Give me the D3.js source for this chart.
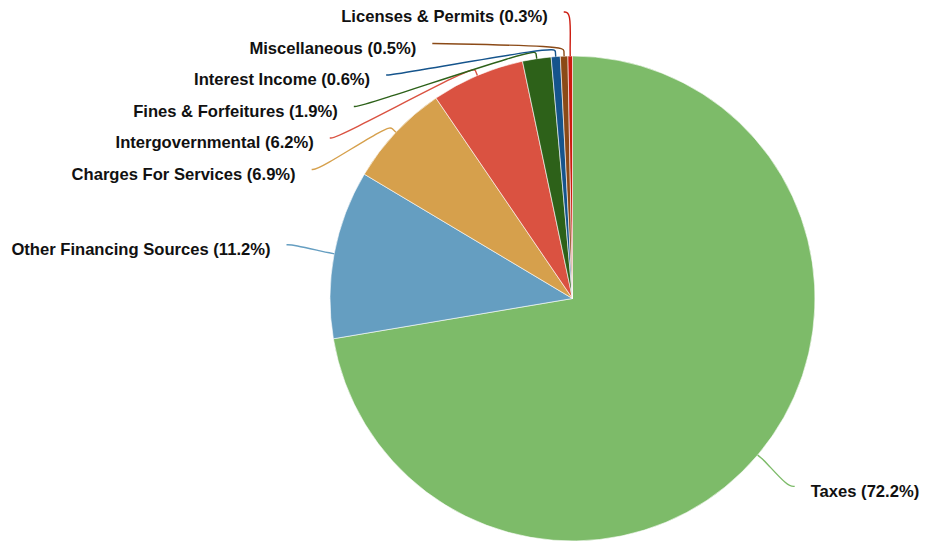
<!DOCTYPE html>
<html>
<head>
<meta charset="utf-8">
<script src="https://cdn.jsdelivr.net/npm/d3@7"></script>
<style>
  html, body { margin: 0; padding: 0; background: #fff; }
  svg { display: block; }
  text { font-family: "Liberation Sans", Arial, Helvetica, sans-serif; font-weight: bold; font-size: 16.6px; fill: #111; }
</style>
</head>
<body>
<svg id="chart" width="925" height="542"></svg>
<script>
// ---- data ----
const categories = ["Taxes", "Other Financing Sources", "Charges For Services", "Intergovernmental",
                    "Fines & Forfeitures", "Interest Income", "Miscellaneous", "Licenses & Permits"];
const percents = [72.2, 11.2, 6.9, 6.2, 1.9, 0.6, 0.5, 0.3];
const colors = ["#7dbb69", "#659ec1", "#d6a04c", "#da5241", "#2d6119", "#15548c", "#8b4a17", "#cc1a0e"];

// ---- layout ----
const W = 925, H = 542;
const cx = 572.5, cy = 298.5, R = 242.5;
const Rmid = R + 10, Rlab = 291;
const labelGap = 16, labelSpacing = 31.5, topMargin = 12;

const svg = d3.select("#chart");
const g = svg.append("g").attr("transform", `translate(${cx},${cy})`);

const data = categories.map((c, i) => ({ name: c, value: percents[i], color: colors[i] }));
const pie = d3.pie().value(d => d.value).sort(null);
const arcs = pie(data);
const arc = d3.arc().innerRadius(0).outerRadius(R);

g.selectAll("path.slice").data(arcs).enter().append("path")
  .attr("class", "slice")
  .attr("d", arc)
  .attr("fill", d => d.data.color)
  .attr("stroke", "#ffffff")
  .attr("stroke-width", 0.6);

// ---- label placement ----
const pol = (r, a) => [r * Math.sin(a), -r * Math.cos(a)];
const labels = arcs.map(d => {
  const a = (d.startAngle + d.endAngle) / 2;
  const [x, y] = pol(Rlab, a);
  return { d, a, x, y, left: a > Math.PI };
});

// left side: from top going counter-clockwise, push down to avoid overlap
const leftLabels = labels.filter(l => l.left).sort((p, q) => q.a - p.a);
leftLabels.forEach((l, i) => {
  if (i === 0) {
    if (l.y < topMargin - cy) { l.y = topMargin - cy; l.x -= 6; }
  } else {
    const minY = leftLabels[i - 1].y + labelSpacing;
    if (l.y < minY) {
      l.y = minY;
      l.x = -Math.sqrt(Math.max(0, Rlab * Rlab - l.y * l.y));
    }
  }
});

const line = d3.line().curve(d3.curveBasis);

labels.forEach(l => {
  const s = pol(R, l.a);
  const s2 = pol(R + 5, l.a);
  const m = pol(Rmid, l.a);
  const dir = l.left ? 1 : -1;
  const e2 = [l.x + dir * 7, l.y];
  const pts = [s, s2, m, e2, [l.x, l.y]];
  g.append("path")
    .attr("d", line(pts))
    .attr("fill", "none")
    .attr("stroke", l.d.data.color)
    .attr("stroke-width", 1.4);

  g.append("text")
    .attr("x", l.left ? l.x - labelGap : l.x + labelGap)
    .attr("y", l.y + 4.5)
    .attr("dy", "0.35em")
    .attr("text-anchor", l.left ? "end" : "start")
    .text(`${l.d.data.name} (${l.d.data.value.toFixed(1)}%)`);
});
</script>
</body>
</html>
